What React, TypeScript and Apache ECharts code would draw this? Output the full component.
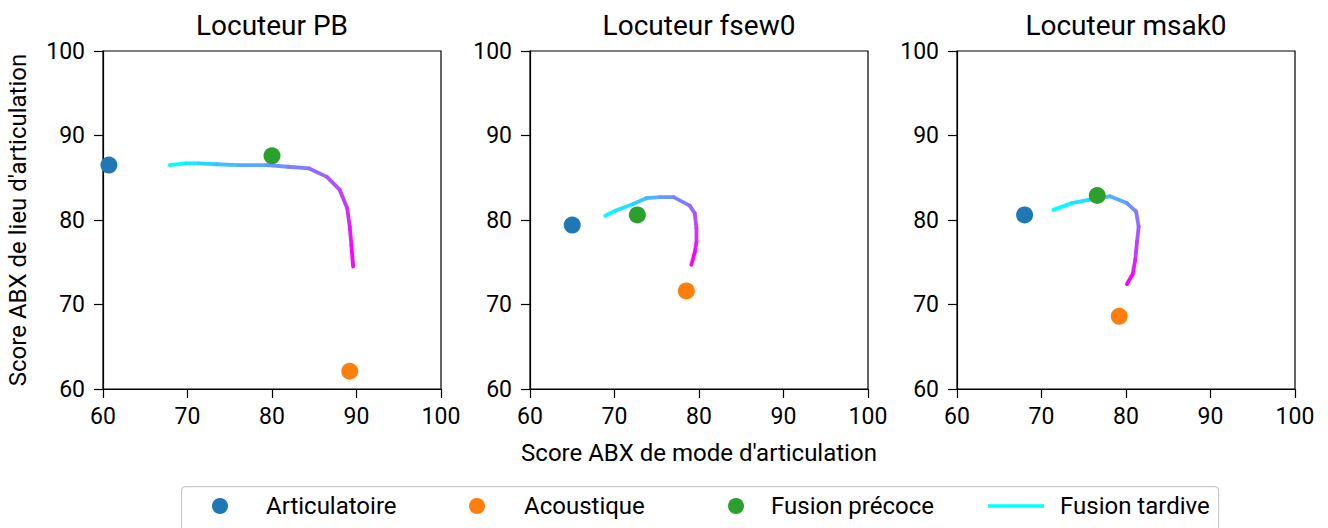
import React, { useEffect, useRef } from "react";
import * as echarts from "echarts";

const FONT = "Roboto, 'Noto Sans', sans-serif";

const panelTitles = ["Locuteur PB", "Locuteur fsew0", "Locuteur msak0"];

// Articulatoire, Acoustique, Fusion précoce: [x, y] per speaker
const articulatoire = [[60.7, 86.5], [65.0, 79.4], [68.0, 80.6]];
const acoustique = [[89.2, 62.1], [78.5, 71.6], [79.2, 68.6]];
const fusionPrecoce = [[80.0, 87.6], [72.7, 80.6], [76.6, 82.9]];

// Fusion tardive curves
const tardivePB = [
  [67.9, 86.5], [69.8, 86.7], [71.3, 86.7], [73.4, 86.6], [76.0, 86.5],
  [79.4, 86.5], [81.9, 86.3], [84.4, 86.1], [86.5, 85.1], [88.0, 83.6],
  [88.9, 81.4], [89.2, 79.2], [89.4, 77.0], [89.6, 74.5],
];
const tardiveFsew0 = [
  [68.9, 80.5], [70.1, 81.1], [72.2, 81.9], [73.8, 82.6], [75.4, 82.7],
  [77.0, 82.7], [78.9, 81.7], [79.5, 80.8], [79.7, 79.0], [79.7, 77.4],
  [79.5, 76.2], [79.1, 74.7],
];
const tardiveMsak0 = [
  [71.4, 81.2], [73.6, 82.0], [75.7, 82.4], [78.1, 82.8], [80.1, 82.0],
  [81.2, 81.0], [81.5, 79.2], [81.3, 77.4], [81.1, 75.3], [80.8, 73.6],
  [80.1, 72.4],
];
const tardive = [tardivePB, tardiveFsew0, tardiveMsak0];

const seriesNames = ["Articulatoire", "Acoustique", "Fusion précoce", "Fusion tardive"];
const colors = ["#1f77b4", "#ff7f0e", "#2ca02c", "#00ffff"];

const gridLefts = [103, 530, 957];
const GRID_TOP = 51;
const GRID_SIZE = 338;

function coolColor(t: number) {
  const r = Math.round(255 * t);
  const g = Math.round(255 * (1 - t));
  return `rgb(${r},${g},255)`;
}

export default function App() {
  const ref = useRef<HTMLDivElement>(null);
  useEffect(() => {
    if (!ref.current) return;
    const chart = echarts.init(ref.current, null, { renderer: "svg" });

    const grids = gridLefts.map((l) => ({
      left: l, top: GRID_TOP, width: GRID_SIZE, height: GRID_SIZE,
      show: true, borderColor: "#000", borderWidth: 1.2, backgroundColor: "transparent",
    }));

    const axisCommon = {
      min: 60, max: 100, interval: 10,
      splitLine: { show: false },
      axisLine: { show: true, onZero: false, lineStyle: { color: "#000", width: 1.2 } },
      axisTick: { show: true, inside: false, length: 9, lineStyle: { color: "#000", width: 1.2 } },
      axisLabel: { color: "#000", fontSize: 23, fontFamily: FONT },
      nameTextStyle: { color: "#000", fontSize: 24, fontFamily: FONT },
    };

    const xAxes = gridLefts.map((_, i) => ({
      ...axisCommon,
      type: "value", gridIndex: i,
      axisLabel: { ...axisCommon.axisLabel, margin: 16 },
      name: i === 1 ? "Score ABX de mode d'articulation" : "",
      nameLocation: "middle", nameGap: 52,
    }));
    const yAxes = gridLefts.map((_, i) => ({
      ...axisCommon,
      type: "value", gridIndex: i,
      axisLabel: { ...axisCommon.axisLabel, margin: 18 },
      name: i === 0 ? "Score ABX de lieu d'articulation" : "",
      nameLocation: "middle", nameGap: 73,
    }));

    const series: any[] = [];
    const scatterSets = [articulatoire, acoustique, fusionPrecoce];
    for (let p = 0; p < 3; p++) {
      scatterSets.forEach((set, k) => {
        series.push({
          type: "scatter", name: seriesNames[k], xAxisIndex: p, yAxisIndex: p,
          data: [set[p]], symbolSize: 17, itemStyle: { color: colors[k], opacity: 1 },
          z: 3,
        });
      });
      const pts = tardive[p];
      const segs = [];
      for (let i = 0; i < pts.length - 1; i++) {
        segs.push([pts[i][0], pts[i][1], pts[i + 1][0], pts[i + 1][1], i / (pts.length - 2)]);
      }
      series.push({
        type: "custom", name: seriesNames[3], xAxisIndex: p, yAxisIndex: p,
        itemStyle: { color: colors[3] },
        encode: { x: [0, 2], y: [1, 3] },
        data: segs, z: 2,
        renderItem: (params: any, api: any) => {
          const a = api.coord([api.value(0), api.value(1)]);
          const b = api.coord([api.value(2), api.value(3)]);
          return {
            type: "line",
            shape: { x1: a[0], y1: a[1], x2: b[0], y2: b[1] },
            style: { stroke: coolColor(api.value(4)), lineWidth: 3.8, lineCap: "round" },
          };
        },
      });
    }

    const legendSpecs = [
      { name: seriesNames[0], center: 220, text: 266 },
      { name: seriesNames[1], center: 477, text: 524 },
      { name: seriesNames[2], center: 736, text: 771 },
    ];
    const LEG_FS = 24;
    const legends: any[] = legendSpecs.map((s) => ({
      data: [{ name: s.name, icon: "circle" }],
      left: s.center - 8, top: 494, padding: 0,
      itemWidth: 16, itemHeight: 16,
      textStyle: { color: "#000", fontSize: LEG_FS, fontFamily: FONT, padding: [0, 0, 0, s.text - (s.center + 13)] },
      selectedMode: false,
    }));
    legends.push({
      data: [{ name: seriesNames[3], icon: "rect" }],
      left: 988, top: 494, padding: 0,
      itemWidth: 56, itemHeight: 3.5,
      textStyle: { color: "#000", fontSize: LEG_FS, fontFamily: FONT, padding: [0, 0, 0, 11] },
      selectedMode: false,
    });

    chart.setOption({
      animation: false,
      backgroundColor: "#fff",
      textStyle: { fontFamily: FONT },
      title: panelTitles.map((t, i) => ({
        text: t, left: gridLefts[i] + GRID_SIZE / 2, top: 11, textAlign: "center", padding: 0,
        textStyle: { color: "#000", fontSize: 28, fontWeight: "normal", fontFamily: FONT },
      })),
      grid: grids,
      xAxis: xAxes,
      yAxis: yAxes,
      legend: legends,
      graphic: [{
        type: "rect", left: 181, top: 486,
        shape: { width: 1037, height: 52, r: 4 },
        style: { fill: "#fff", stroke: "#cccccc", lineWidth: 1.2 },
        z: -1,
      }],
      series,
    });
    return () => chart.dispose();
  }, []);
  return <div ref={ref} style={{ position: "fixed", left: 0, top: 0, width: 1328, height: 528 }} />;
}
